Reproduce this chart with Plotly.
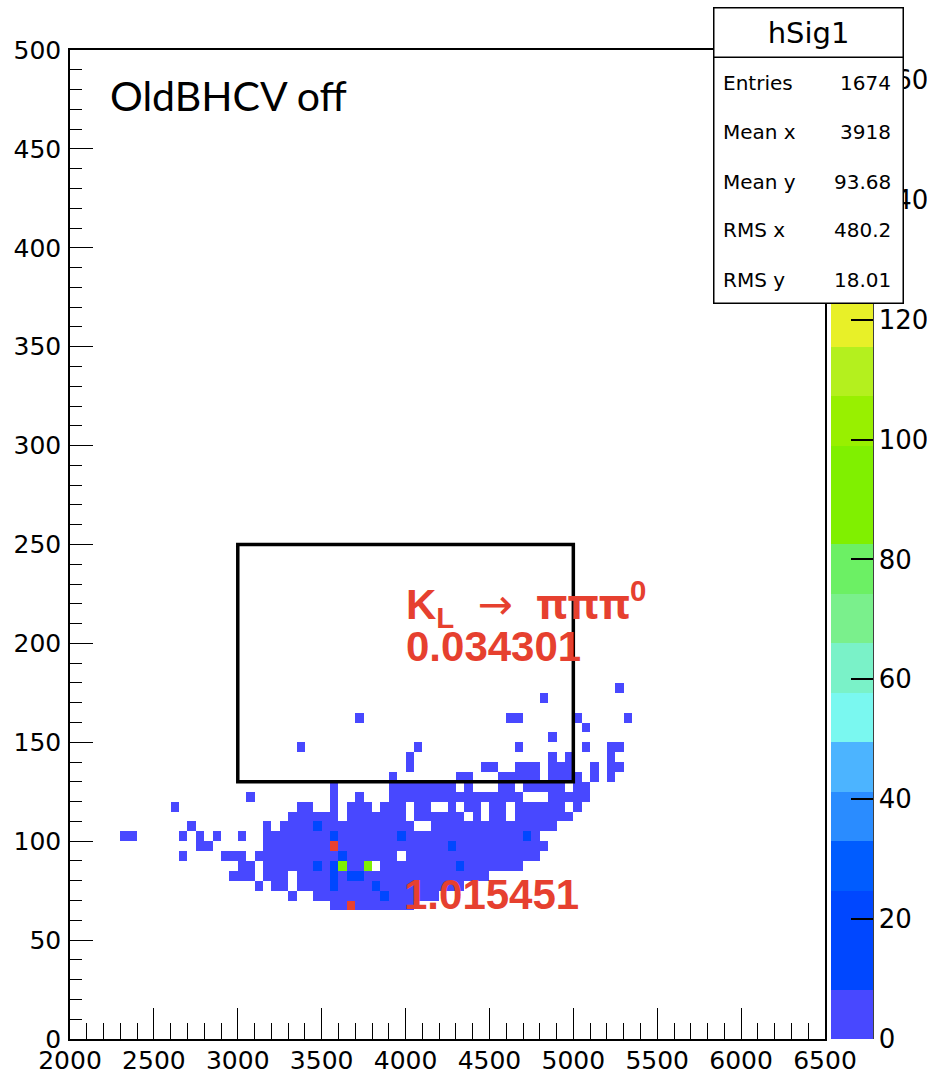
import numpy as np
import plotly.graph_objects as go

# ---------------- data ----------------
x_min, x_max, x_bins = 2000, 6500, 90
y_min, y_max, y_bins = 0, 500, 100
first_row = 13  # y bin index of the first row string below (y = 65..70)

# each char = one 50-wide x bin starting at x=2000; '|' separates 500-wide groups
# '.' empty, '1' low count
count_rows = [
    "..........|..........|..........|.111111111|1.........|..........|..........",  # 65
    "..........|..........|......1..1|1111111111|1111......|..........|..........",  # 70
    "..........|..........|..1.11.111|1111111111|1111111...|..........|..........",  # 75
    "..........|.........1|11.111.111|1111111111|1111111111|..........|..........",  # 80
    "..........|..........|11.1111111|111111.111|1111111111|1111......|..........",  # 85
    "..........|...1....11|1.11111111|111111111.|1111111111|111111....|..........",  # 90
    "..........|.....11...|...1111111|1111111111|1111111111|1111111...|..........",  # 95
    "......11..|...1.1.1..|1..1111111|1111111111|1111111111|111111....|..........",  # 100
    "..........|....1.....|...1.11111|1111111111|1..1111111|11111111..|..........",  # 105
    "..........|..........|......1111|11.1111111|.111111.1.|11.1111111|..........",  # 110
    "..........|..1.......|.......11.|.1.111.111|.11..1.11.|11.111111.|1.........",  # 115
    "..........|..........|.1........|.1..1...11|1111111111|1111...111|11........",  # 120
    "..........|..........|..........|.1......11|111111.1..|.11.11111.|11........",  # 125
    "..........|..........|..........|........1.|......11..|.11111.111|1.1.1.....",  # 130
    "..........|..........|..........|..........|1........1|1..111.111|..1.11....",  # 135
    "..........|..........|..........|..........|1.........|.......1.1|....1.....",  # 140
    "..........|..........|.......1..|..........|.1........|...1......|.1..11....",  # 145
    "..........|..........|..........|..........|..........|.......1..|..........",  # 150
    "..........|..........|..........|..........|..........|..........|.1........",  # 155
    "..........|..........|..........|....1.....|..........|..11......|1.....1...",  # 160
    "..........|..........|..........|..........|..........|..........|..........",  # 165
    "..........|..........|..........|..........|..........|......1...|..........",  # 170
    "..........|..........|..........|..........|..........|..........|.....1....",  # 175
]
code_counts = {"1": 3, "2": 15, "g": 95, "r": 162}
special_cells = [  # (x bin, y bin, code)
    (31, 19, "r"), (33, 13, "r"), (32, 17, "g"), (35, 17, "g"),
    (37, 14, "2"), (31, 15, "2"), (36, 15, "2"),
    (31, 16, "2"), (33, 16, "2"), (34, 16, "2"), (29, 17, "2"), (31, 17, "2"),
    (46, 17, "2"), (32, 18, "2"), (45, 19, "2"), (31, 20, "2"), (39, 20, "2"),
    (54, 20, "2"), (29, 21, "2"),
]

z_min, z_max, n_levels = 0, 165, 20
level_colors = ["#4848ff", "#0047ff", "#0047ff", "#005cff", "#2a8cff",
                "#4cb4ff", "#7af8f0", "#7af2c8", "#7af08c", "#6cf064",
                "#80f000", "#80f000", "#98f000", "#b4f01e", "#e8f028",
                "#f0c828", "#f09628", "#f06428", "#e8502d", "#e8412f"]
cbar_ticks = [0, 20, 40, 60, 80, 100, 120, 140, 160]

stat_labels = ["Entries", "Mean x", "Mean y", "RMS x", "RMS y"]
stat_values = ["1674", "3918", "93.68", "480.2", "18.01"]
hist_name = "hSig1"

box_x = [3000, 5000]
box_y = [130, 250]

# ---------------- build z ----------------
z = np.full((y_bins, x_bins), np.nan)
for r, row in enumerate(count_rows):
    cells = row.replace("|", "")
    for i, ch in enumerate(cells):
        if ch in code_counts:
            z[first_row + r, i] = code_counts[ch]
for i, j, ch in special_cells:
    z[j, i] = code_counts[ch]
x_edges = np.linspace(x_min, x_max, x_bins + 1)
y_edges = np.linspace(y_min, y_max, y_bins + 1)

colorscale = []
for k, c in enumerate(level_colors):
    colorscale.append([k / n_levels, c])
    colorscale.append([(k + 1) / n_levels, c])

# ---------------- layout geometry (pixels) ----------------
W, H = 927, 1082
L, R, T, B = 70, 825, 50, 1039


def px2x(px):
    return (px - L) / (R - L)


def py2y(py):
    return (B - py) / (B - T)


FONT = "DejaVu Sans"
fig = go.Figure()
fig.add_trace(go.Heatmap(
    x=x_edges, y=y_edges, z=z, zmin=z_min, zmax=z_max,
    colorscale=colorscale, hoverongaps=False, xgap=0, ygap=0,
    colorbar=dict(
        x=px2x(831), xanchor="left", xpad=0, thickness=42,
        len=1, lenmode="fraction", y=0.5, yanchor="middle", ypad=0,
        outlinewidth=0, tickvals=cbar_ticks, ticks="inside", ticklen=22,
        tickwidth=1.5, tickcolor="black",
        tickfont=dict(family=FONT, size=26, color="black"),
    ),
))

axis_common = dict(showline=True, linecolor="black", linewidth=1.5, mirror=True,
                   ticks="inside", tickcolor="black", tickwidth=1.3,
                   showgrid=False, zeroline=False,
                   tickfont=dict(family=FONT, size=25, color="black"))
fig.update_xaxes(range=[x_min, x_max], dtick=500, tick0=0, ticklen=31,
                 minor=dict(dtick=100, ticklen=16, ticks="inside", tickcolor="black"),
                 ticklabelstandoff=-2, **axis_common)
fig.update_yaxes(range=[y_min, y_max], dtick=50, tick0=0, ticklen=23,
                 minor=dict(dtick=10, ticklen=12, ticks="inside", tickcolor="black"),
                 ticklabelstandoff=2, **axis_common)

fig.add_shape(type="rect", x0=box_x[0], x1=box_x[1], y0=box_y[0], y1=box_y[1],
              line=dict(color="black", width=3.5), layer="above")
# colorbar axis line
fig.add_shape(type="line", xref="paper", yref="paper", x0=px2x(873), x1=px2x(873),
              y0=0, y1=1, line=dict(color="black", width=1.5))

red = "#e6402f"
anns = []
anns.append(dict(text="OldBHCV off", x=px2x(108), y=py2y(95), xanchor="left", yanchor="middle",
                 font=dict(family="Lato", size=41, color="black")))
anns.append(dict(text="<b>K<sub>L</sub></b>  <span style=\"font-family:'DejaVu Sans'\">\u2192</span>  "
                      "<b><span style=\"font-family:'Noto Sans'\">\u03c0\u03c0\u03c0</span><sup>0</sup></b>",
                 x=px2x(404), y=py2y(604),
                 xanchor="left", yanchor="middle", font=dict(family="Liberation Sans", size=42, color=red)))
anns.append(dict(text="<b>0.034301</b>", x=px2x(404), y=py2y(646), xanchor="left", yanchor="middle",
                 font=dict(family="Liberation Sans", size=42, color=red)))
anns.append(dict(text="<b>1.015451</b>", x=px2x(402), y=py2y(894), xanchor="left", yanchor="middle",
                 font=dict(family="Liberation Sans", size=42, color=red)))
# stats box
anns.append(dict(text=" ", x=px2x(713), y=py2y(7), xanchor="left", yanchor="top",
                 width=188, height=294, bgcolor="white", bordercolor="black",
                 borderwidth=1.5, borderpad=0, showarrow=False))
anns.append(dict(text=hist_name, x=px2x(713), y=py2y(7), xanchor="left", yanchor="top",
                 width=188, height=48, bgcolor="white", bordercolor="black",
                 borderwidth=1.5, borderpad=0, font=dict(family=FONT, size=29, color="black")))
row_y = [83, 132, 182, 230, 280]
for lab, val, ry in zip(stat_labels, stat_values, row_y):
    anns.append(dict(text=lab, x=px2x(721), y=py2y(ry), xanchor="left", yanchor="middle",
                     font=dict(family=FONT, size=20, color="black")))
    anns.append(dict(text=val, x=px2x(893), y=py2y(ry), xanchor="right", yanchor="middle",
                     font=dict(family=FONT, size=20, color="black")))
for a in anns:
    a.setdefault("showarrow", False)
    a.setdefault("xref", "paper")
    a.setdefault("yref", "paper")
fig.update_layout(annotations=anns)

fig.update_layout(width=W, height=H,
                  margin=dict(l=L, r=W - R, t=T, b=H - B, autoexpand=False),
                  paper_bgcolor="white", plot_bgcolor="white", showlegend=False)
fig.write_html("out.html", config={"displayModeBar": False},
               post_script="document.body.style.margin='0';document.body.style.overflow='hidden';")
